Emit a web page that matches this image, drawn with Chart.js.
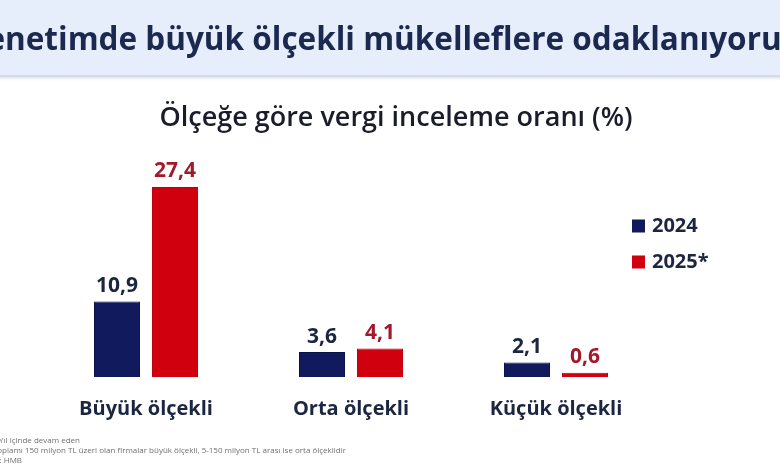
<!DOCTYPE html>
<html>
<head>
<meta charset="utf-8">
<script src="https://cdn.jsdelivr.net/npm/chart.js@4.4.1/dist/chart.umd.min.js"></script>
<style>
  html, body { margin: 0; padding: 0; background: #ffffff; }
  #wrap { width: 780px; height: 470px; }
</style>
</head>
<body>
<div id="wrap"><canvas id="c" width="780" height="470"></canvas></div>
<script>
const categories = ["Büyük ölçekli", "Orta ölçekli", "Küçük ölçekli"];
const seriesLabels = ["2024", "2025*"];
const values2024 = [10.9, 3.6, 2.1];
const values2025 = [27.4, 4.1, 0.6];
const headerTitle = "Denetimde büyük ölçekli mükelleflere odaklanıyoruz";
const chartTitle = "Ölçeğe göre vergi inceleme oranı (%)";
const footnotes = [
  "* Yıl içinde devam eden",
  "Aktif toplamı 150 milyon TL üzeri olan firmalar büyük ölçekli, 5-150 milyon TL arası ise orta ölçeklidir",
  "Kaynak: HMB"
];

const NAVY = "#101a5c";
const RED = "#d0000f";
const NAVY_TXT = "#1c2640";
const RED_TXT = "#a3192b";
const FONT = "'Open Sans', 'Noto Sans', sans-serif";

const decorPlugin = {
  id: "decor",
  beforeDraw(chart) {
    const ctx = chart.ctx;
    ctx.save();
    ctx.fillStyle = "#ffffff";
    ctx.fillRect(0, 0, chart.width, chart.height);
    // header band
    ctx.fillStyle = "#e6eefb";
    ctx.fillRect(0, 0, chart.width, 76);
    ctx.fillStyle = "#d3daea";
    ctx.fillRect(0, 75, chart.width, 2);
    const g = ctx.createLinearGradient(0, 77, 0, 82);
    g.addColorStop(0, "rgba(200,208,225,0.6)");
    g.addColorStop(1, "rgba(255,255,255,0)");
    ctx.fillStyle = g;
    ctx.fillRect(0, 77, chart.width, 5);
    // header title
    ctx.fillStyle = "#1b2850";
    ctx.font = "bold 31.5px " + FONT;
    ctx.textAlign = "right";
    ctx.textBaseline = "middle";
    ctx.fillText(headerTitle, 797, 41);
    // chart title
    ctx.fillStyle = "#1a1c2c";
    ctx.font = "600 27px " + FONT;
    ctx.textAlign = "center";
    ctx.fillText(chartTitle, 396, 118);
    // footnotes
    ctx.fillStyle = "#707070";
    ctx.font = "8px " + FONT;
    ctx.textAlign = "right";
    ctx.fillText(footnotes[0], 80, 441);
    ctx.fillText(footnotes[1], 346, 451);
    ctx.fillText(footnotes[2], 22, 461);
    ctx.restore();
  },
  afterDatasetsDraw(chart) {
    const ctx = chart.ctx;
    ctx.save();
    ctx.font = "bold 21px " + FONT;
    ctx.textAlign = "center";
    ctx.textBaseline = "bottom";
    chart.data.datasets.forEach((ds, di) => {
      const meta = chart.getDatasetMeta(di);
      meta.data.forEach((bar, i) => {
        ctx.fillStyle = di === 0 ? NAVY_TXT : RED_TXT;
        ctx.fillText(String(ds.data[i]).replace(".", ","), bar.x, bar.y - 5);
      });
    });
    // legend
    ctx.font = "bold 20px " + FONT;
    ctx.textAlign = "left";
    ctx.textBaseline = "middle";
    chart.data.datasets.forEach((ds, di) => {
      const y = 226 + di * 36;
      ctx.fillStyle = ds.backgroundColor;
      ctx.fillRect(632, y - 6.5, 13, 13);
      ctx.fillStyle = NAVY_TXT;
      ctx.fillText(ds.label, 652, y);
    });
    ctx.restore();
  }
};

new Chart(document.getElementById("c"), {
  type: "bar",
  data: {
    labels: categories,
    datasets: [
      { label: seriesLabels[0], data: values2024, backgroundColor: NAVY, borderColor: "#0a1248", borderWidth: 1 },
      { label: seriesLabels[1], data: values2025, backgroundColor: RED, borderColor: "#c00010", borderWidth: 1 }
    ]
  },
  options: {
    responsive: false,
    animation: false,
    devicePixelRatio: 1,
    categoryPercentage: 0.566,
    barPercentage: 0.793,
    layout: { padding: { left: 43.5, right: 121.5, top: 155, bottom: 10 } },
    plugins: { legend: { display: false }, title: { display: false }, tooltip: { enabled: false } },
    scales: {
      x: {
        grid: { display: false, drawTicks: false },
        border: { display: false },
        ticks: { color: NAVY_TXT, font: { family: FONT, size: 20, weight: "bold" }, padding: 20 },
        afterFit(scale) { scale.height = 83; }
      },
      y: {
        display: false,
        min: 0,
        max: 32
      }
    }
  },
  plugins: [decorPlugin]
});
</script>
</body>
</html>
